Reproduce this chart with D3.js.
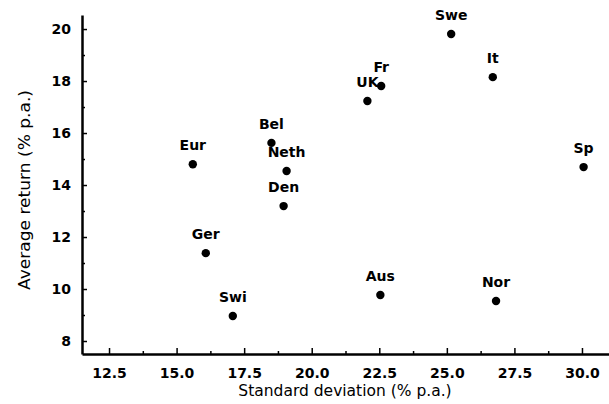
<!DOCTYPE html>
<html><head><meta charset="utf-8">
<script src="https://cdn.jsdelivr.net/npm/d3@7"></script>
<style>
body{margin:0;background:#fff;}
svg{display:block;font-family:"DejaVu Sans",sans-serif;}
</style></head>
<body><svg id="c" width="609" height="404"></svg>
<script>
const countries = ["Eur","Ger","Swi","Bel","Neth","Den","UK","Fr","Aus","Swe","It","Nor","Sp"];
const stdDev    = [15.6, 16.08, 17.08, 18.51, 19.07, 18.96, 22.06, 22.57, 22.54, 25.16, 26.7, 26.82, 30.06];
const avgReturn = [14.8, 11.38, 8.96, 15.62, 14.54, 13.19, 17.23, 17.81, 9.77, 19.81, 18.15, 9.54, 14.69];
const xTicks = [12.5, 15.0, 17.5, 20.0, 22.5, 25.0, 27.5, 30.0];
const xMinor = [13.75, 16.25, 18.75, 21.25, 23.75, 26.25, 28.75];
const yTicks = [8, 10, 12, 14, 16, 18, 20];
const yMinor = [9, 11, 13, 15, 17, 19];

const svg = d3.select("#c");
const x = d3.scaleLinear().domain([11.5, 31]).range([82, 609]);
const y = d3.scaleLinear().domain([7.5, 20.54]).range([354, 15]);

// minor ticks
svg.append("g").attr("transform","translate(0,354)")
  .call(d3.axisBottom(x).tickValues(xMinor).tickSize(-3).tickFormat(""))
  .call(g=>g.select(".domain").remove())
  .selectAll("line").attr("stroke","#000").attr("stroke-width",1.5);
svg.append("g").attr("transform","translate(82,0)")
  .call(d3.axisLeft(y).tickValues(yMinor).tickSize(-3).tickFormat(""))
  .call(g=>g.select(".domain").remove())
  .selectAll("line").attr("stroke","#000").attr("stroke-width",1.5);

// major axes
const xa = svg.append("g").attr("transform","translate(0,354)")
  .call(d3.axisBottom(x).tickValues(xTicks).tickSize(-6).tickSizeOuter(0).tickPadding(14).tickFormat(d3.format(".1f")));
const ya = svg.append("g").attr("transform","translate(82,0)")
  .call(d3.axisLeft(y).tickValues(yTicks).tickSize(-5).tickSizeOuter(0).tickPadding(11).tickFormat(d3.format("d")));
[xa,ya].forEach(a=>{
  a.select(".domain").attr("stroke","#000").attr("stroke-width",2.5);
  a.selectAll(".tick line").attr("stroke","#000").attr("stroke-width",1.5);
  a.selectAll(".tick text").attr("fill","#000").style("font-size","14px").style("font-weight","bold")
    .style("font-family","DejaVu Sans, sans-serif");
});

// axis titles
svg.append("text").attr("x", 345).attr("y", 396).attr("text-anchor","middle")
  .style("font-size","15.5px").text("Standard deviation (% p.a.)");
svg.append("text").attr("transform","translate(30,190) rotate(-90)").attr("text-anchor","middle")
  .style("font-size","15.5px").attr("textLength", 200).attr("lengthAdjust","spacingAndGlyphs")
  .text("Average return (% p.a.)");

// points
const data = countries.map((c,i)=>({c, sd: stdDev[i], r: avgReturn[i]}));
svg.append("g").selectAll("circle").data(data).join("circle")
  .attr("cx", d=>x(d.sd)).attr("cy", d=>y(d.r)).attr("r", 4.2).attr("fill","#000");
svg.append("g").selectAll("text").data(data).join("text")
  .attr("x", d=>x(d.sd)).attr("y", d=>y(d.r)-14).attr("text-anchor","middle")
  .style("font-size","14px").style("font-weight","bold").text(d=>d.c);
</script></body></html>
